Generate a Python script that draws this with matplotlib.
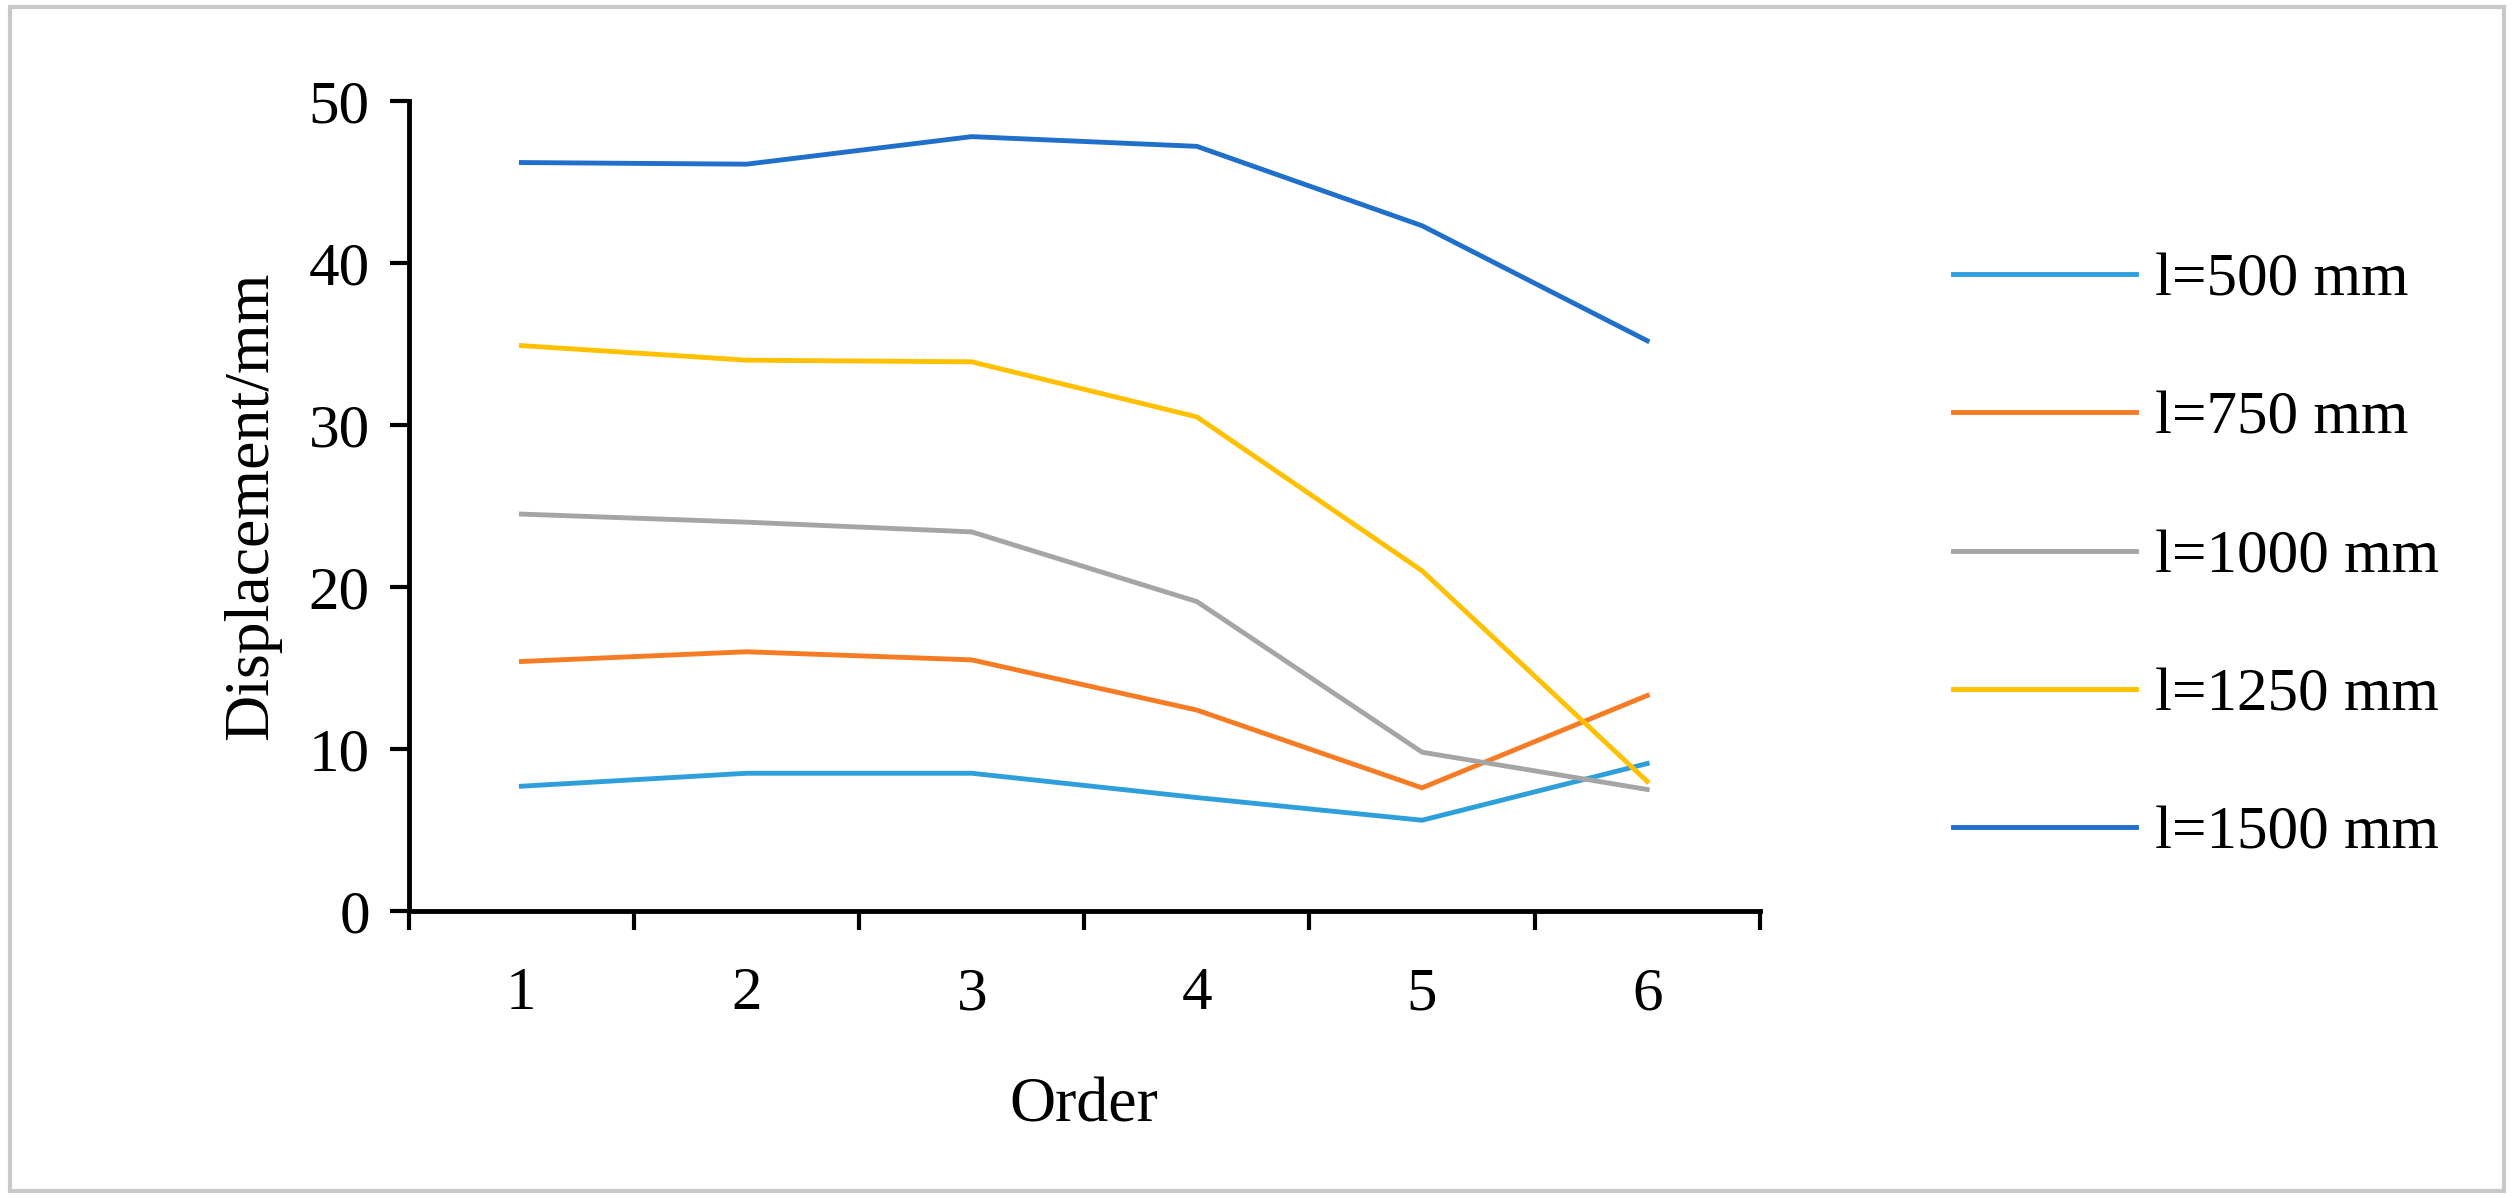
import matplotlib.pyplot as plt
from matplotlib.patches import Rectangle

plt.rcParams['font.family'] = ['Liberation Serif', 'DejaVu Serif']

orders = [1, 2, 3, 4, 5, 6]
labels = ["l=500 mm", "l=750 mm", "l=1000 mm", "l=1250 mm", "l=1500 mm"]
colors = ["#2E9FDB", "#F57C24", "#A5A5A5", "#FFC000", "#1F6FCB"]
l500 = [7.7, 8.5, 8.5, 7.0, 5.6, 9.1]
l750 = [15.4, 16.0, 15.5, 12.4, 7.6, 13.3]
l1000 = [24.5, 24.0, 23.4, 19.1, 9.8, 7.5]
l1250 = [34.9, 34.0, 33.9, 30.5, 21.0, 8.0]
l1500 = [46.2, 46.1, 47.8, 47.2, 42.3, 35.2]
series = [l500, l750, l1000, l1250, l1500]

fig = plt.figure(figsize=(25.14, 11.98), dpi=100)
fig.patches.append(Rectangle((0.004, 0.006), 0.992, 0.988, transform=fig.transFigure,
                             fill=False, edgecolor="#C8C8C8", linewidth=3))
ax = fig.add_axes([0.1626, 0.2396, 0.5374, 0.6761])

for vals, lab, c in zip(series, labels, colors):
    ax.plot(orders, vals, color=c, linewidth=3.5, label=lab)

ax.set_xlim(0.5, 6.5)
ax.set_ylim(0, 50)
ax.set_yticks(range(0, 51, 10))
ax.set_xticks(orders)
ax.set_xticks([x + 0.5 for x in range(0, 7)], minor=True)
ax.tick_params(axis='x', which='major', length=0, pad=40, labelsize=44)
ax.tick_params(axis='x', which='minor', length=14, width=3, direction='out')
ax.tick_params(axis='y', length=14, width=3, direction='out', labelsize=44, pad=14)
for s in ['top', 'right']:
    ax.spines[s].set_visible(False)
for s in ['left', 'bottom']:
    ax.spines[s].set_linewidth(3.5)
ax.set_xlabel("Order", fontsize=46, labelpad=40)
ax.set_ylabel("Displacement/mm", fontsize=46, labelpad=20)

fig.legend(loc='upper left', bbox_to_anchor=(0.755, 0.835), frameon=False,
           fontsize=44, handlelength=3.0, labelspacing=1.35, handletextpad=0.3)

fig.savefig("out.png", dpi=100)
